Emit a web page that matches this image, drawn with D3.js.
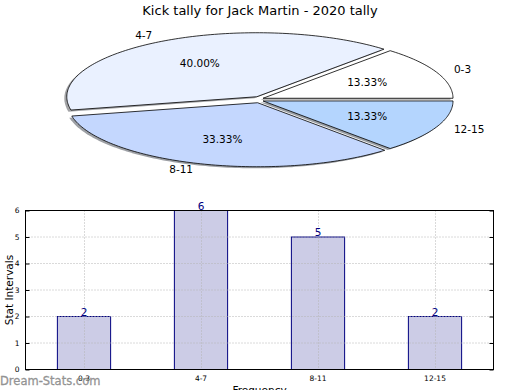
<!DOCTYPE html>
<html><head><meta charset="utf-8">
<script src="https://cdn.jsdelivr.net/npm/d3@7"></script>
<style>body{margin:0;background:#fff}svg{display:block;font-family:"DejaVu Sans",sans-serif}</style>
</head><body>
<svg id="c" width="520" height="390"></svg>
<script>
const title = "Kick tally for Jack Martin - 2020 tally";
const categories = ["0-3", "4-7", "8-11", "12-15"];
const counts = [2, 6, 5, 2];
const pieColors = ["#ffffff", "#eaf1ff", "#c4d7fe", "#b4d5fe"];
const yTicks = [0, 1, 2, 3, 4, 5, 6];
const yLabel = "Stat Intervals";
const xLabel = "Frequency";
const watermark = "Dream-Stats.com";

const svg = d3.select("#c");
svg.append("rect").attr("width", 520).attr("height", 390).attr("fill", "#fff");

// Title
svg.append("text").attr("x", 260).attr("y", 15).attr("text-anchor", "middle")
  .attr("font-size", 13).attr("fill", "#000").text(title);

// ---------- Pie ----------
const cx = 259, cy = 99.6, rx = 190, ry = 64;
const ex = 4.4, ey = 3.3;       // explode offset (px)
const sdx = -2.5, sdy = 1.6;    // shadow offset
const total = d3.sum(counts);
const pie = d3.pie().sort(null).startAngle(0).endAngle(2 * Math.PI)(counts);

function slicePath(a0, a1, ox, oy) {
  const n = Math.max(2, Math.ceil((a1 - a0) / 0.02));
  const pts = [[ox, oy]];
  for (let i = 0; i <= n; i++) {
    const a = a0 + (a1 - a0) * i / n;
    pts.push([ox + rx * Math.cos(a), oy - ry * Math.sin(a)]);
  }
  return d3.line()(pts) + "Z";
}
const pg = svg.append("g");
const slices = pie.map((p, i) => {
  const mid = (p.startAngle + p.endAngle) / 2;
  return { p, i, mid, ox: cx + ex * Math.cos(mid), oy: cy - ey * Math.sin(mid) };
});
// shadows
slices.forEach(s => {
  const c = d3.rgb(pieColors[s.i]);
  pg.append("path").attr("d", slicePath(s.p.startAngle, s.p.endAngle, s.ox + sdx, s.oy + sdy))
    .attr("fill", d3.rgb(c.r * 0.3, c.g * 0.3, c.b * 0.3)).attr("fill-opacity", 0.5);
});
// wedges
slices.forEach(s => {
  pg.append("path").attr("d", slicePath(s.p.startAngle, s.p.endAngle, s.ox, s.oy))
    .attr("fill", pieColors[s.i]).attr("stroke", "#000").attr("stroke-width", 0.8)
    .attr("stroke-linejoin", "miter");
});
// labels
slices.forEach(s => {
  const lx = s.ox + 1.1 * rx * Math.cos(s.mid);
  const ly = s.oy - 1.1 * ry * Math.sin(s.mid);
  pg.append("text").attr("x", lx).attr("y", ly).attr("dy", "0.35em")
    .attr("text-anchor", Math.cos(s.mid) < 0 ? "end" : "start")
    .attr("font-size", 10.5).text(categories[s.i]);
  const px = s.ox + 0.6 * rx * Math.cos(s.mid);
  const py = s.oy - 0.6 * ry * Math.sin(s.mid);
  pg.append("text").attr("x", px).attr("y", py).attr("dy", "0.35em")
    .attr("text-anchor", "middle").attr("font-size", 10.5)
    .text((counts[s.i] / total * 100).toFixed(2) + "%");
});

// ---------- Bar chart ----------
const L = 25.5, R = 493.5, T = 210.5, B = 369.5;
const x = d3.scaleBand().domain(categories).range([L, R]);
const y = d3.scaleLinear().domain([0, 6]).range([B, T]);
const bw = x.bandwidth() * 0.455;
const bg = svg.append("g");

bg.selectAll("rect.bar").data(categories).join("rect").attr("class", "bar")
  .attr("x", d => x(d) + (x.bandwidth() - bw) / 2)
  .attr("y", (d, i) => y(counts[i]))
  .attr("width", bw)
  .attr("height", (d, i) => y(0) - y(counts[i]))
  .attr("fill", "#cccce6").attr("stroke", "#000080").attr("stroke-width", 1);

// grid (drawn over bars)
bg.selectAll("line.gy").data(yTicks).join("line")
  .attr("x1", L).attr("x2", R).attr("y1", d => y(d)).attr("y2", d => y(d))
  .attr("stroke", "#b4b4b4").attr("stroke-width", 1).attr("stroke-dasharray", "1,2");
bg.selectAll("line.gx").data(categories).join("line")
  .attr("x1", d => Math.round(x(d) + x.bandwidth() / 2) + 0.5)
  .attr("x2", d => Math.round(x(d) + x.bandwidth() / 2) + 0.5)
  .attr("y1", T).attr("y2", B)
  .attr("stroke", "#b4b4b4").attr("stroke-width", 1).attr("stroke-dasharray", "1,2");

// frame
bg.append("rect").attr("x", L).attr("y", T).attr("width", R - L).attr("height", B - T)
  .attr("fill", "none").attr("stroke", "#000").attr("stroke-width", 1);

// y axis ticks
const yAxisL = d3.axisLeft(y).tickValues(yTicks).tickSize(-4).tickPadding(6).tickFormat(d3.format("d"));
const gl = bg.append("g").attr("transform", `translate(${L},0)`).call(yAxisL);
gl.select(".domain").remove();
gl.selectAll("text").attr("font-size", 7.5).attr("font-family", "DejaVu Sans").attr("fill", "#000");
const yAxisR = d3.axisRight(y).tickValues(yTicks).tickSize(-4).tickFormat("");
const gr = bg.append("g").attr("transform", `translate(${R},0)`).call(yAxisR);
gr.select(".domain").remove();

// x axis
const xAxis = d3.axisBottom(x).tickSize(0).tickPadding(6);
const gx = bg.append("g").attr("transform", `translate(0,${B})`).call(xAxis);
gx.select(".domain").remove();
gx.selectAll("text").attr("font-size", 7.5).attr("font-family", "DejaVu Sans").attr("fill", "#000");

// value labels
bg.selectAll("text.val").data(categories).join("text").attr("class", "val")
  .attr("x", d => x(d) + x.bandwidth() / 2)
  .attr("y", (d, i) => y(counts[i]) - 1)
  .attr("text-anchor", "middle").attr("font-size", 10.5).attr("fill", "#000080")
  .text((d, i) => counts[i]);

// axis labels
svg.append("text").attr("transform", `translate(12.5,${(T + B) / 2}) rotate(-90)`)
  .attr("text-anchor", "middle").attr("font-size", 10.5).text(yLabel);
svg.append("text").attr("x", (L + R) / 2).attr("y", 394).attr("text-anchor", "middle")
  .attr("font-size", 10.5).text(xLabel);

// watermark
svg.append("text").attr("x", 0).attr("y", 385).attr("font-size", 11.5)
  .attr("fill", "#8c8c8c").attr("fill-opacity", 0.9).attr("stroke", "#8c8c8c").attr("stroke-width", 0.3)
  .text(watermark);
</script>
</body></html>
